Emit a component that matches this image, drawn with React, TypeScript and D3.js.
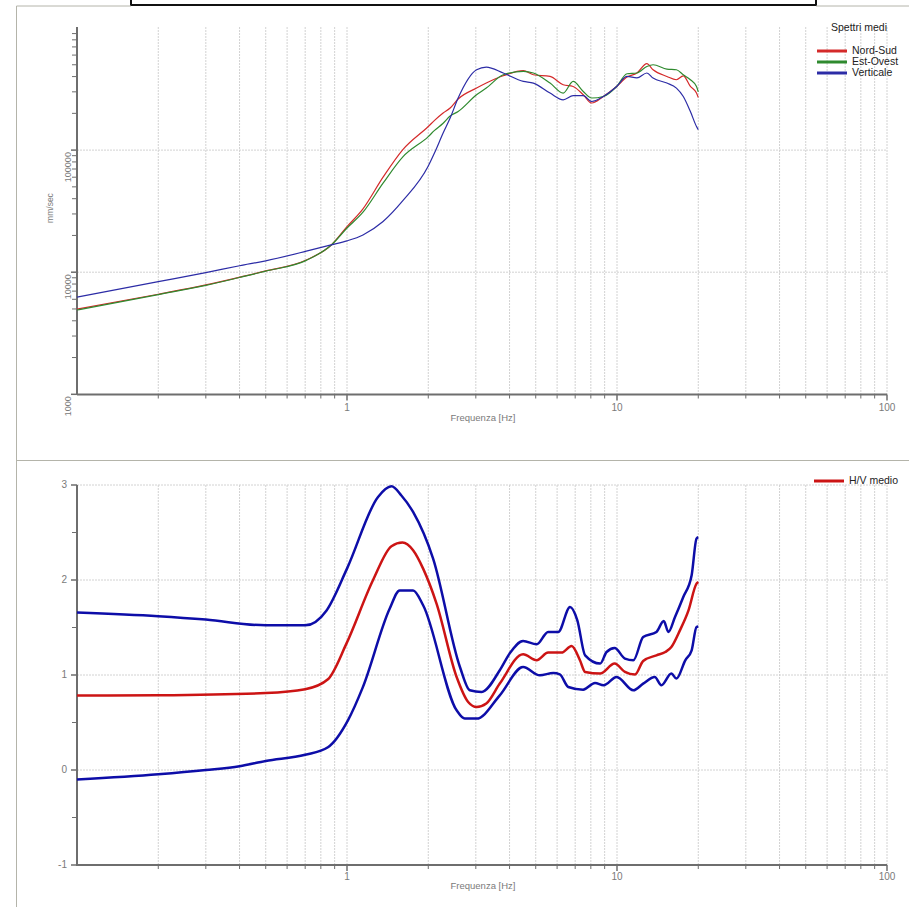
import React from 'react';
import * as d3 from 'd3';

// ---------- Data: top panel (average spectra, mm/sec) ----------
const spectraFreq = [0.1, 0.2, 0.3, 0.4, 0.5, 0.707, 0.875, 1.0, 1.146, 1.36, 1.61, 2.0, 2.11, 2.27, 2.41, 2.58, 3.02, 3.28, 3.79, 4.5, 4.9, 5.65, 6.32, 6.88, 7.5, 8.06, 8.9, 9.97, 10.9, 11.85, 12.9, 13.6, 15.3, 16.6, 17.6, 18.7, 19.7, 20];
const nordSud = [4980, 6600, 7870, 9100, 10240, 12600, 16700, 23600, 33000, 60000, 101000, 156000, 175000, 201000, 221000, 262000, 322000, 354000, 406000, 447000, 414000, 401000, 343000, 332000, 284000, 243000, 275000, 332000, 396000, 428000, 510000, 455000, 401000, 377000, 406000, 332000, 293000, 270000];
const estOvest = [4900, 6550, 7800, 9050, 10200, 12500, 16700, 23000, 31000, 53600, 88000, 129000, 145000, 166000, 190000, 207000, 284000, 322000, 414000, 441000, 428000, 354000, 293000, 365000, 302000, 267000, 275000, 332000, 422000, 428000, 484000, 500000, 461000, 455000, 414000, 377000, 332000, 300000];
const verticale = [6240, 8370, 9930, 11300, 12400, 14860, 16740, 18060, 20200, 26000, 38500, 74000, 95000, 138000, 183000, 267000, 455000, 479000, 428000, 365000, 354000, 293000, 258000, 279000, 279000, 250000, 275000, 332000, 401000, 390000, 428000, 389000, 354000, 322000, 275000, 207000, 156000, 147000];

// ---------- Data: bottom panel (H/V) ----------
const hvMeanFreq = [0.1, 0.2, 0.5, 0.7, 0.85, 0.995, 1.249, 1.461, 1.605, 1.757, 1.914, 2.146, 2.547, 2.81, 3.02, 3.28, 3.68, 4.49, 5.04, 5.56, 6.23, 6.79, 7.29, 7.62, 8.66, 9.8, 10.7, 11.66, 12.5, 14.0, 15.1, 15.9, 17.1, 18.4, 19.7, 20];
const hvMean = [0.783, 0.787, 0.81, 0.85, 0.955, 1.33, 2.0, 2.355, 2.394, 2.313, 2.12, 1.752, 0.979, 0.716, 0.663, 0.7, 0.91, 1.218, 1.155, 1.236, 1.236, 1.305, 1.155, 1.032, 1.015, 1.12, 1.032, 1.004, 1.147, 1.207, 1.242, 1.295, 1.47, 1.681, 1.962, 1.98];
const hvUpperFreq = [0.1, 0.2, 0.3, 0.5, 0.7, 0.84, 1.0, 1.303, 1.461, 1.59, 1.757, 2.084, 2.62, 2.85, 3.15, 3.68, 4.0, 4.49, 5.04, 5.56, 6.06, 6.7, 7.13, 7.62, 8.66, 9.15, 9.8, 10.7, 11.5, 12.5, 14.0, 14.9, 15.5, 16.4, 17.6, 18.9, 19.7, 20];
const hvUpper = [1.657, 1.618, 1.583, 1.523, 1.523, 1.68, 2.12, 2.874, 2.986, 2.89, 2.716, 2.225, 1.084, 0.839, 0.821, 1.05, 1.225, 1.358, 1.323, 1.453, 1.453, 1.716, 1.576, 1.207, 1.12, 1.242, 1.284, 1.173, 1.155, 1.4, 1.453, 1.568, 1.453, 1.61, 1.821, 2.05, 2.436, 2.45];
const hvLowerFreq = [0.1, 0.2, 0.3, 0.4, 0.5, 0.7, 0.85, 1.008, 1.144, 1.44, 1.567, 1.757, 1.914, 2.547, 2.73, 3.02, 3.68, 4.49, 5.18, 5.81, 6.14, 6.6, 7.49, 8.29, 8.92, 9.97, 11.5, 12.5, 13.8, 14.6, 15.9, 16.6, 17.9, 18.9, 19.7, 20];
const hvLower = [-0.1, -0.045, 0.0, 0.04, 0.095, 0.16, 0.24, 0.523, 0.87, 1.7, 1.89, 1.89, 1.734, 0.628, 0.541, 0.541, 0.786, 1.084, 0.997, 1.021, 1.007, 0.874, 0.846, 0.916, 0.892, 0.979, 0.839, 0.909, 0.979, 0.892, 1.015, 0.962, 1.155, 1.26, 1.505, 1.51];

// ---------- Ticks / labels ----------
const xMajorTicks = [1, 10, 100];
const xMinorTicks = [0.2, 0.3, 0.4, 0.5, 0.6, 0.7, 0.8, 0.9, 2, 3, 4, 5, 6, 7, 8, 9, 20, 30, 40, 50, 60, 70, 80, 90];
const topYLabels = [1000, 10000, 100000];
const topYGrid = [10000, 100000];
const botYLabels = [-1, 0, 1, 2, 3];
const botYGrid = [0, 1, 2, 3];
const botYMinor = [-0.5, 0.5, 1.5, 2.5];
const spectraLegend = ['Nord-Sud', 'Est-Ovest', 'Verticale'];

const FONT = 'Liberation Sans, Arial, sans-serif';
const AXIS = '#6e6e6e';
const GRID = '#d2d2d2';
const LABEL = '#7a7a7a';

export default function App() {
  const x = d3.scaleLog().domain([0.1, 100]).range([77, 887]);
  const yTop = d3.scaleLog().domain([1000, 1e6]).range([394.3, 28]);
  const yBot = d3.scaleLinear().domain([-1, 3]).range([865, 485]);

  const topMinorY: number[] = [];
  [1000, 10000, 100000].forEach((d) => {
    for (let k = 2; k <= 9; k++) topMinorY.push(d * k);
  });

  const lineTop = (vals: number[]) =>
    d3
      .line<number>()
      .x((_, i) => x(spectraFreq[i]))
      .y((v) => yTop(v))
      .curve(d3.curveMonotoneX)(vals) || '';

  const lineBot = (fr: number[], vals: number[]) =>
    d3
      .line<number>()
      .x((_, i) => x(fr[i]))
      .y((v) => yBot(v))
      .curve(d3.curveMonotoneX)(vals) || '';

  const topSeries = [
    { name: spectraLegend[0], vals: nordSud, color: '#d42a2a' },
    { name: spectraLegend[1], vals: estOvest, color: '#2f8a2f' },
    { name: spectraLegend[2], vals: verticale, color: '#2c2ca6' },
  ];

  const allX = [...xMinorTicks, ...xMajorTicks];

  const renderXAxis = (y0: number, yTopGrid: number, labelY: number, titleY: number) => (
    <g>
      {allX.map((t) => (
        <line key={'g' + t} x1={x(t)} x2={x(t)} y1={yTopGrid} y2={y0} stroke={GRID} strokeDasharray="2,1" />
      ))}
      <line x1={x(0.1)} x2={x(100)} y1={y0} y2={y0} stroke={AXIS} strokeWidth={2} />
      {xMinorTicks.map((t) => (
        <line key={'t' + t} x1={x(t)} x2={x(t)} y1={y0} y2={y0 + 4} stroke={AXIS} strokeWidth={1} />
      ))}
      {xMajorTicks.map((t) => (
        <g key={'M' + t}>
          <line x1={x(t)} x2={x(t)} y1={y0} y2={y0 + 6} stroke={AXIS} strokeWidth={1.5} />
          <text x={x(t)} y={labelY} fontSize={10} fill={LABEL} textAnchor="middle" dominantBaseline="middle" fontFamily={FONT}>
            {t}
          </text>
        </g>
      ))}
      <text x={483} y={titleY} fontSize={9.5} fill={LABEL} textAnchor="middle" dominantBaseline="middle" fontFamily={FONT}>
        Frequenza [Hz]
      </text>
    </g>
  );

  return (
    <svg width={909} height={907} style={{ position: 'absolute', left: 0, top: 0, background: '#fff' }} fontFamily={FONT}>
      {/* frame */}
      <rect x={131} y={-4} width={685} height={9} fill="none" stroke="#111" strokeWidth={2} />
      <line x1={816} x2={909} y1={6} y2={6} stroke="#b4b4aa" strokeWidth={1} />
      <line x1={16.5} x2={16.5} y1={6} y2={907} stroke="#b4b4aa" strokeWidth={1} />
      <line x1={16.5} x2={131} y1={6} y2={6} stroke="#b4b4aa" strokeWidth={1} />
      <line x1={16} x2={909} y1={460.5} y2={460.5} stroke="#b4b4aa" strokeWidth={1} />

      {/* ---------- TOP PANEL ---------- */}
      {topYGrid.map((t) => (
        <line key={'hg' + t} x1={77} x2={887} y1={yTop(t)} y2={yTop(t)} stroke={GRID} strokeDasharray="2,1" />
      ))}
      {renderXAxis(394.5, 27, 408, 418)}
      <line x1={77} x2={77} y1={27} y2={395} stroke={AXIS} strokeWidth={2} />
      {topMinorY.map((t) => (
        <line key={'ym' + t} x1={72} x2={77} y1={yTop(t)} y2={yTop(t)} stroke={AXIS} strokeWidth={1} />
      ))}
      {topYLabels.map((t) => (
        <g key={'yl' + t}>
          <line x1={71} x2={77} y1={yTop(t)} y2={yTop(t)} stroke={AXIS} strokeWidth={1.5} />
          <text
            transform={`translate(71,${yTop(t) + 2}) rotate(-90)`}
            fontSize={9}
            fill={LABEL}
            textAnchor="end"
            fontFamily={FONT}
          >
            {t}
          </text>
        </g>
      ))}
      <text transform="translate(53,208) rotate(-90)" fontSize={8.5} fill={LABEL} textAnchor="middle" fontFamily={FONT}>
        mm/sec
      </text>
      {topSeries.map((s) => (
        <path key={s.name} d={lineTop(s.vals)} fill="none" stroke={s.color} strokeWidth={1.2} />
      ))}
      {/* legend */}
      <text x={859} y={28} fontSize={10.5} fill="#222" textAnchor="middle" dominantBaseline="middle" fontFamily={FONT}>
        Spettri medi
      </text>
      {topSeries.map((s, i) => (
        <g key={'lg' + s.name}>
          <line x1={817} x2={847} y1={51 + i * 11} y2={51 + i * 11} stroke={s.color} strokeWidth={3} />
          <text x={852} y={51 + i * 11} fontSize={10.5} fill="#222" dominantBaseline="middle" fontFamily={FONT}>
            {s.name}
          </text>
        </g>
      ))}

      {/* ---------- BOTTOM PANEL ---------- */}
      {botYGrid.map((t) => (
        <line key={'bg' + t} x1={77} x2={887} y1={yBot(t)} y2={yBot(t)} stroke={GRID} strokeDasharray="2,1" />
      ))}
      {renderXAxis(865, 485, 877, 886)}
      <line x1={77} x2={77} y1={485} y2={866} stroke={AXIS} strokeWidth={2} />
      {botYMinor.map((t) => (
        <line key={'bm' + t} x1={72} x2={77} y1={yBot(t)} y2={yBot(t)} stroke={AXIS} strokeWidth={1} />
      ))}
      {botYLabels.map((t) => (
        <g key={'bl' + t}>
          <line x1={71} x2={77} y1={yBot(t)} y2={yBot(t)} stroke={AXIS} strokeWidth={1.5} />
          <text x={67} y={yBot(t)} fontSize={10} fill={LABEL} textAnchor="end" dominantBaseline="middle" fontFamily={FONT}>
            {t}
          </text>
        </g>
      ))}
      <path d={lineBot(hvUpperFreq, hvUpper)} fill="none" stroke="#0d0da8" strokeWidth={2.5} />
      <path d={lineBot(hvLowerFreq, hvLower)} fill="none" stroke="#0d0da8" strokeWidth={2.5} />
      <path d={lineBot(hvMeanFreq, hvMean)} fill="none" stroke="#cc1414" strokeWidth={2.5} />
      <line x1={814} x2={844} y1={481} y2={481} stroke="#cc1414" strokeWidth={3} />
      <text x={849} y={481} fontSize={10.5} fill="#222" dominantBaseline="middle" fontFamily={FONT}>
        H/V medio
      </text>
    </svg>
  );
}
